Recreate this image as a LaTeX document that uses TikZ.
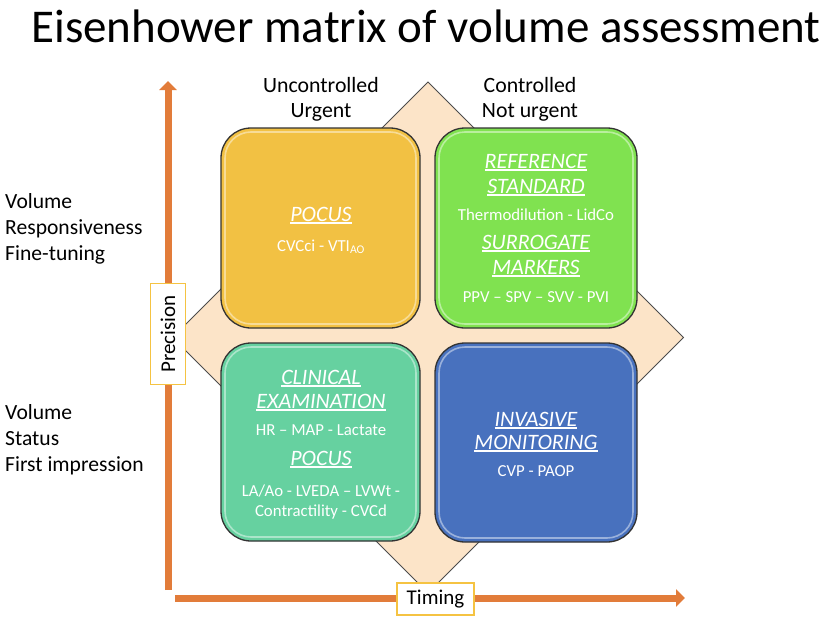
\documentclass[tikz,border=0pt]{standalone}
\usepackage{fontspec}
\setmainfont{Carlito}
\usetikzlibrary{arrows.meta}
\definecolor{cyel}{RGB}{242,193,67}
\definecolor{cgrn}{RGB}{128,226,80}
\definecolor{cteal}{RGB}{102,209,160}
\definecolor{cblue}{RGB}{72,113,190}
\definecolor{cdia}{RGB}{252,228,200}
\definecolor{corg}{RGB}{226,124,58}
\definecolor{cgold}{RGB}{245,195,66}
\newcommand\myul[1]{\leavevmode\vtop{\hbox{#1}\kern1.2pt\hrule height 1.3pt}}
\tikzset{
  quad/.style={draw=black!80, line width=1.3pt, rounded corners=30pt},
  gloss/.style={draw=white, opacity=0.45, line width=1.6pt, rounded corners=26pt},
  axis/.style={draw=corg, line width=7pt, -{Triangle[width=17pt,length=9pt]}},
  lab/.style={font=\fontsize{21.8}{24}\selectfont, anchor=base, inner sep=0pt},
  side/.style={font=\fontsize{21.6}{24}\selectfont, anchor=base west, inner sep=0pt},
  hd/.style={font=\fontsize{22}{24}\selectfont\itshape, text=white, anchor=base, inner sep=0pt},
  tx/.style={font=\fontsize{16.8}{20}\selectfont, text=white, anchor=base, inner sep=0pt},
  axbox/.style={draw=cgold, line width=1.3pt, fill=white, font=\fontsize{21}{24}\selectfont, inner sep=0pt}
}
\begin{document}
\begin{tikzpicture}[x=1pt,y=-1pt]
\useasboundingbox (0,0) rectangle (829,626);
% title
\node[font=\fontsize{47}{50}\selectfont, anchor=base, inner sep=0pt] (title) at (426,42) {Eisenhower matrix of volume assessment};
% axes
\coordinate (vb) at (168,590);
\coordinate (vt) at (168,81);
\coordinate (hl) at (175,598);
\coordinate (hr) at (685,598);
\draw[axis] (vb) -- (vt);
\draw[axis] (hl) -- (hr);
% diamond
\coordinate (dt) at (428,82);
\coordinate (dr) at (683.5,337.5);
\coordinate (db) at (428,593);
\coordinate (dl) at (172.5,337.5);
\draw[fill=cdia, draw=black!70, line width=0.8pt] (dt) -- (dr) -- (db) -- (dl) -- cycle;
% quadrants
\draw[quad, fill=cyel] (221,128) rectangle (420,328);
\draw[gloss] (225,132) rectangle (416,324);
\draw[quad, fill=cgrn] (435,128) rectangle (637,328);
\draw[gloss] (439,132) rectangle (633,324);
\draw[quad, fill=cteal] (221,343) rectangle (420,541);
\draw[gloss] (225,347) rectangle (416,537);
\draw[quad, fill=cblue] (435,343) rectangle (637,542);
\draw[gloss] (439,347) rectangle (633,538);
% axis labels
\node[axbox, minimum width=35pt, minimum height=101pt] (prec) at (168,334) {};
\node[font=\fontsize{21}{24}\selectfont, rotate=90, inner sep=0pt] (prect) at (168,334) {Precision};
\node[axbox, minimum width=77pt, minimum height=32pt] (timing) at (435.5,599) {Timing};
% top labels
\node[lab] (u1) at (321,92) {Uncontrolled};
\node[lab] (u2) at (321,117) {Urgent};
\node[lab] (c1) at (530,92) {Controlled};
\node[lab] (c2) at (530,117) {Not urgent};
% side labels
\node[side] (s1) at (5,208) {Volume};
\node[side] (s2) at (5,234) {Responsiveness};
\node[side] (s3) at (5,260) {Fine-tuning};
\node[side] (s4) at (5,419) {Volume};
\node[side] (s5) at (5,445) {Status};
\node[side] (s6) at (5,471) {First impression};
% yellow
\node[hd] (y1) at (321,221) {\myul{POCUS}};
\node[tx] (y2) at (321,251) {CVCci - VTI\textsubscript{AO}};
% green
\node[hd] (g1) at (536,168) {\myul{REFERENCE}};
\node[hd] (g2) at (536,193) {\myul{STANDARD}};
\node[tx] (g3) at (536,220) {Thermodilution - LidCo};
\node[hd] (g4) at (536,249) {\myul{SURROGATE}};
\node[hd] (g5) at (536,274) {\myul{MARKERS}};
\node[tx] (g6) at (536,302) {PPV – SPV – SVV - PVI};
% teal
\node[hd] (t1) at (321,384) {\myul{CLINICAL}};
\node[hd] (t2) at (321,408) {\myul{EXAMINATION}};
\node[tx] (t3) at (321,435) {HR – MAP - Lactate};
\node[hd] (t4) at (321,465) {\myul{POCUS}};
\node[tx] (t5) at (321,496) {LA/Ao - LVEDA – LVWt -};
\node[tx] (t6) at (321,516) {Contractility - CVCd};
% blue
\node[hd] (b1) at (536,426) {\myul{INVASIVE}};
\node[hd] (b2) at (536,449) {\myul{MONITORING}};
\node[tx] (b3) at (536,476) {CVP - PAOP};
\end{tikzpicture}
\end{document}
